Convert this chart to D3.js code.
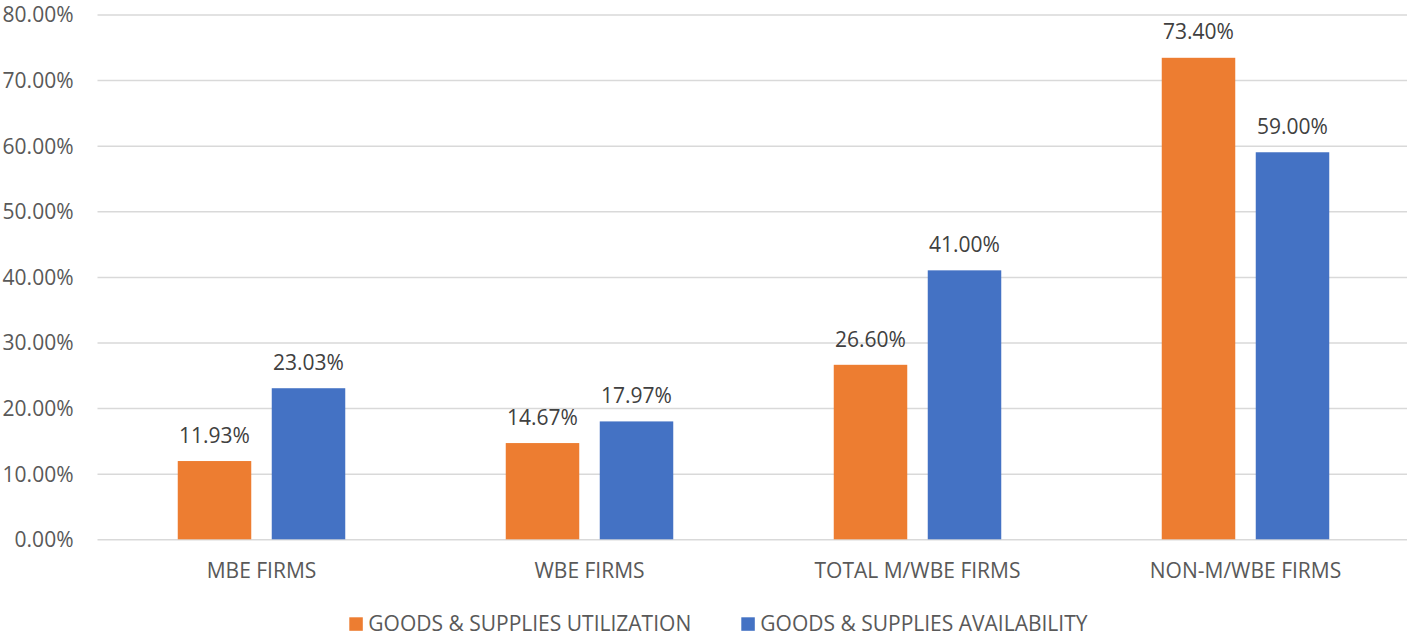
<!DOCTYPE html>
<html>
<head>
<meta charset="utf-8">
<script src="https://cdn.jsdelivr.net/npm/d3@7"></script>
<style>
  html, body { margin: 0; padding: 0; background: #ffffff; }
  svg { display: block; }
</style>
</head>
<body>
<svg id="chart" width="1407" height="636"></svg>
<script>
// Goods & supplies: utilization vs availability by firm type
const categories = ["MBE FIRMS", "WBE FIRMS", "TOTAL M/WBE FIRMS", "NON-M/WBE FIRMS"];
const utilization = [11.93, 14.67, 26.60, 73.40];
const availability = [23.03, 17.97, 41.00, 59.00];
const seriesNames = ["GOODS & SUPPLIES UTILIZATION", "GOODS & SUPPLIES AVAILABILITY"];
const seriesColors = ["#ED7D31", "#4472C4"];
const yTicks = [0, 10, 20, 30, 40, 50, 60, 70, 80];

const svg = d3.select("#chart");
const W = 1407, H = 636;
const margin = { left: 97.5, right: -2.5, top: 14.5, bottom: 96.7 };
const FONT = "'Open Sans', 'Segoe UI', sans-serif";
const FS = 21;

const x = d3.scaleBand()
  .domain(categories)
  .range([margin.left, W - margin.right]);

const y = d3.scaleLinear()
  .domain([0, 80])
  .range([H - margin.bottom, margin.top]);

const series = [utilization, availability];
const barW = 73.5;
const barGap = 20.5;
const groupW = barW * 2 + barGap;

// gridlines + y tick labels
const yAxis = d3.axisLeft(y)
  .tickValues(yTicks)
  .tickSize(-(W - margin.left))
  .tickPadding(24)
  .tickFormat(d => d.toFixed(2) + "%");

const gy = svg.append("g")
  .attr("transform", `translate(${margin.left},0)`)
  .call(yAxis);
gy.select(".domain").remove();
gy.selectAll(".tick line").attr("stroke", "#D9D9D9").attr("stroke-width", 1.5);
gy.selectAll(".tick text")
  .attr("fill", "#595959")
  .attr("font-family", FONT)
  .attr("font-size", FS)
  .attr("dy", "0.35em");

// x category labels
const xAxis = d3.axisBottom(x).tickSize(0).tickPadding(0);
const gx = svg.append("g")
  .attr("transform", `translate(0,${y(0)})`)
  .call(xAxis);
gx.select(".domain").remove();
gx.selectAll(".tick text")
  .attr("fill", "#595959")
  .attr("font-family", FONT)
  .attr("font-size", FS)
  .attr("dy", null)
  .attr("y", 39);

// bars with value labels
const groups = svg.append("g").selectAll("g")
  .data(categories)
  .join("g")
  .attr("transform", d => `translate(${x(d) + (x.bandwidth() - groupW) / 2},0)`);

series.forEach((vals, si) => {
  const bx = si * (barW + barGap);
  groups.append("rect")
    .attr("x", bx)
    .attr("width", barW)
    .attr("y", (d, i) => y(vals[i]))
    .attr("height", (d, i) => y(0) - y(vals[i]))
    .attr("fill", seriesColors[si]);

  groups.append("text")
    .attr("x", bx + barW / 2)
    .attr("y", (d, i) => y(vals[i]) - 18.3)
    .attr("text-anchor", "middle")
    .attr("fill", "#404040")
    .attr("font-family", FONT)
    .attr("font-size", FS)
    .text((d, i) => vals[i].toFixed(2) + "%");
});

// legend
const legendItems = [
  { x: 349.3, name: seriesNames[0], color: seriesColors[0] },
  { x: 741.3, name: seriesNames[1], color: seriesColors[1] }
];
const lg = svg.append("g");
legendItems.forEach(it => {
  lg.append("rect")
    .attr("x", it.x)
    .attr("y", 617.3)
    .attr("width", 13.5)
    .attr("height", 13.5)
    .attr("fill", it.color);
  lg.append("text")
    .attr("x", it.x + 19)
    .attr("y", 630.7)
    .attr("fill", "#595959")
    .attr("font-family", FONT)
    .attr("font-size", FS)
    .text(it.name);
});
</script>
</body>
</html>
